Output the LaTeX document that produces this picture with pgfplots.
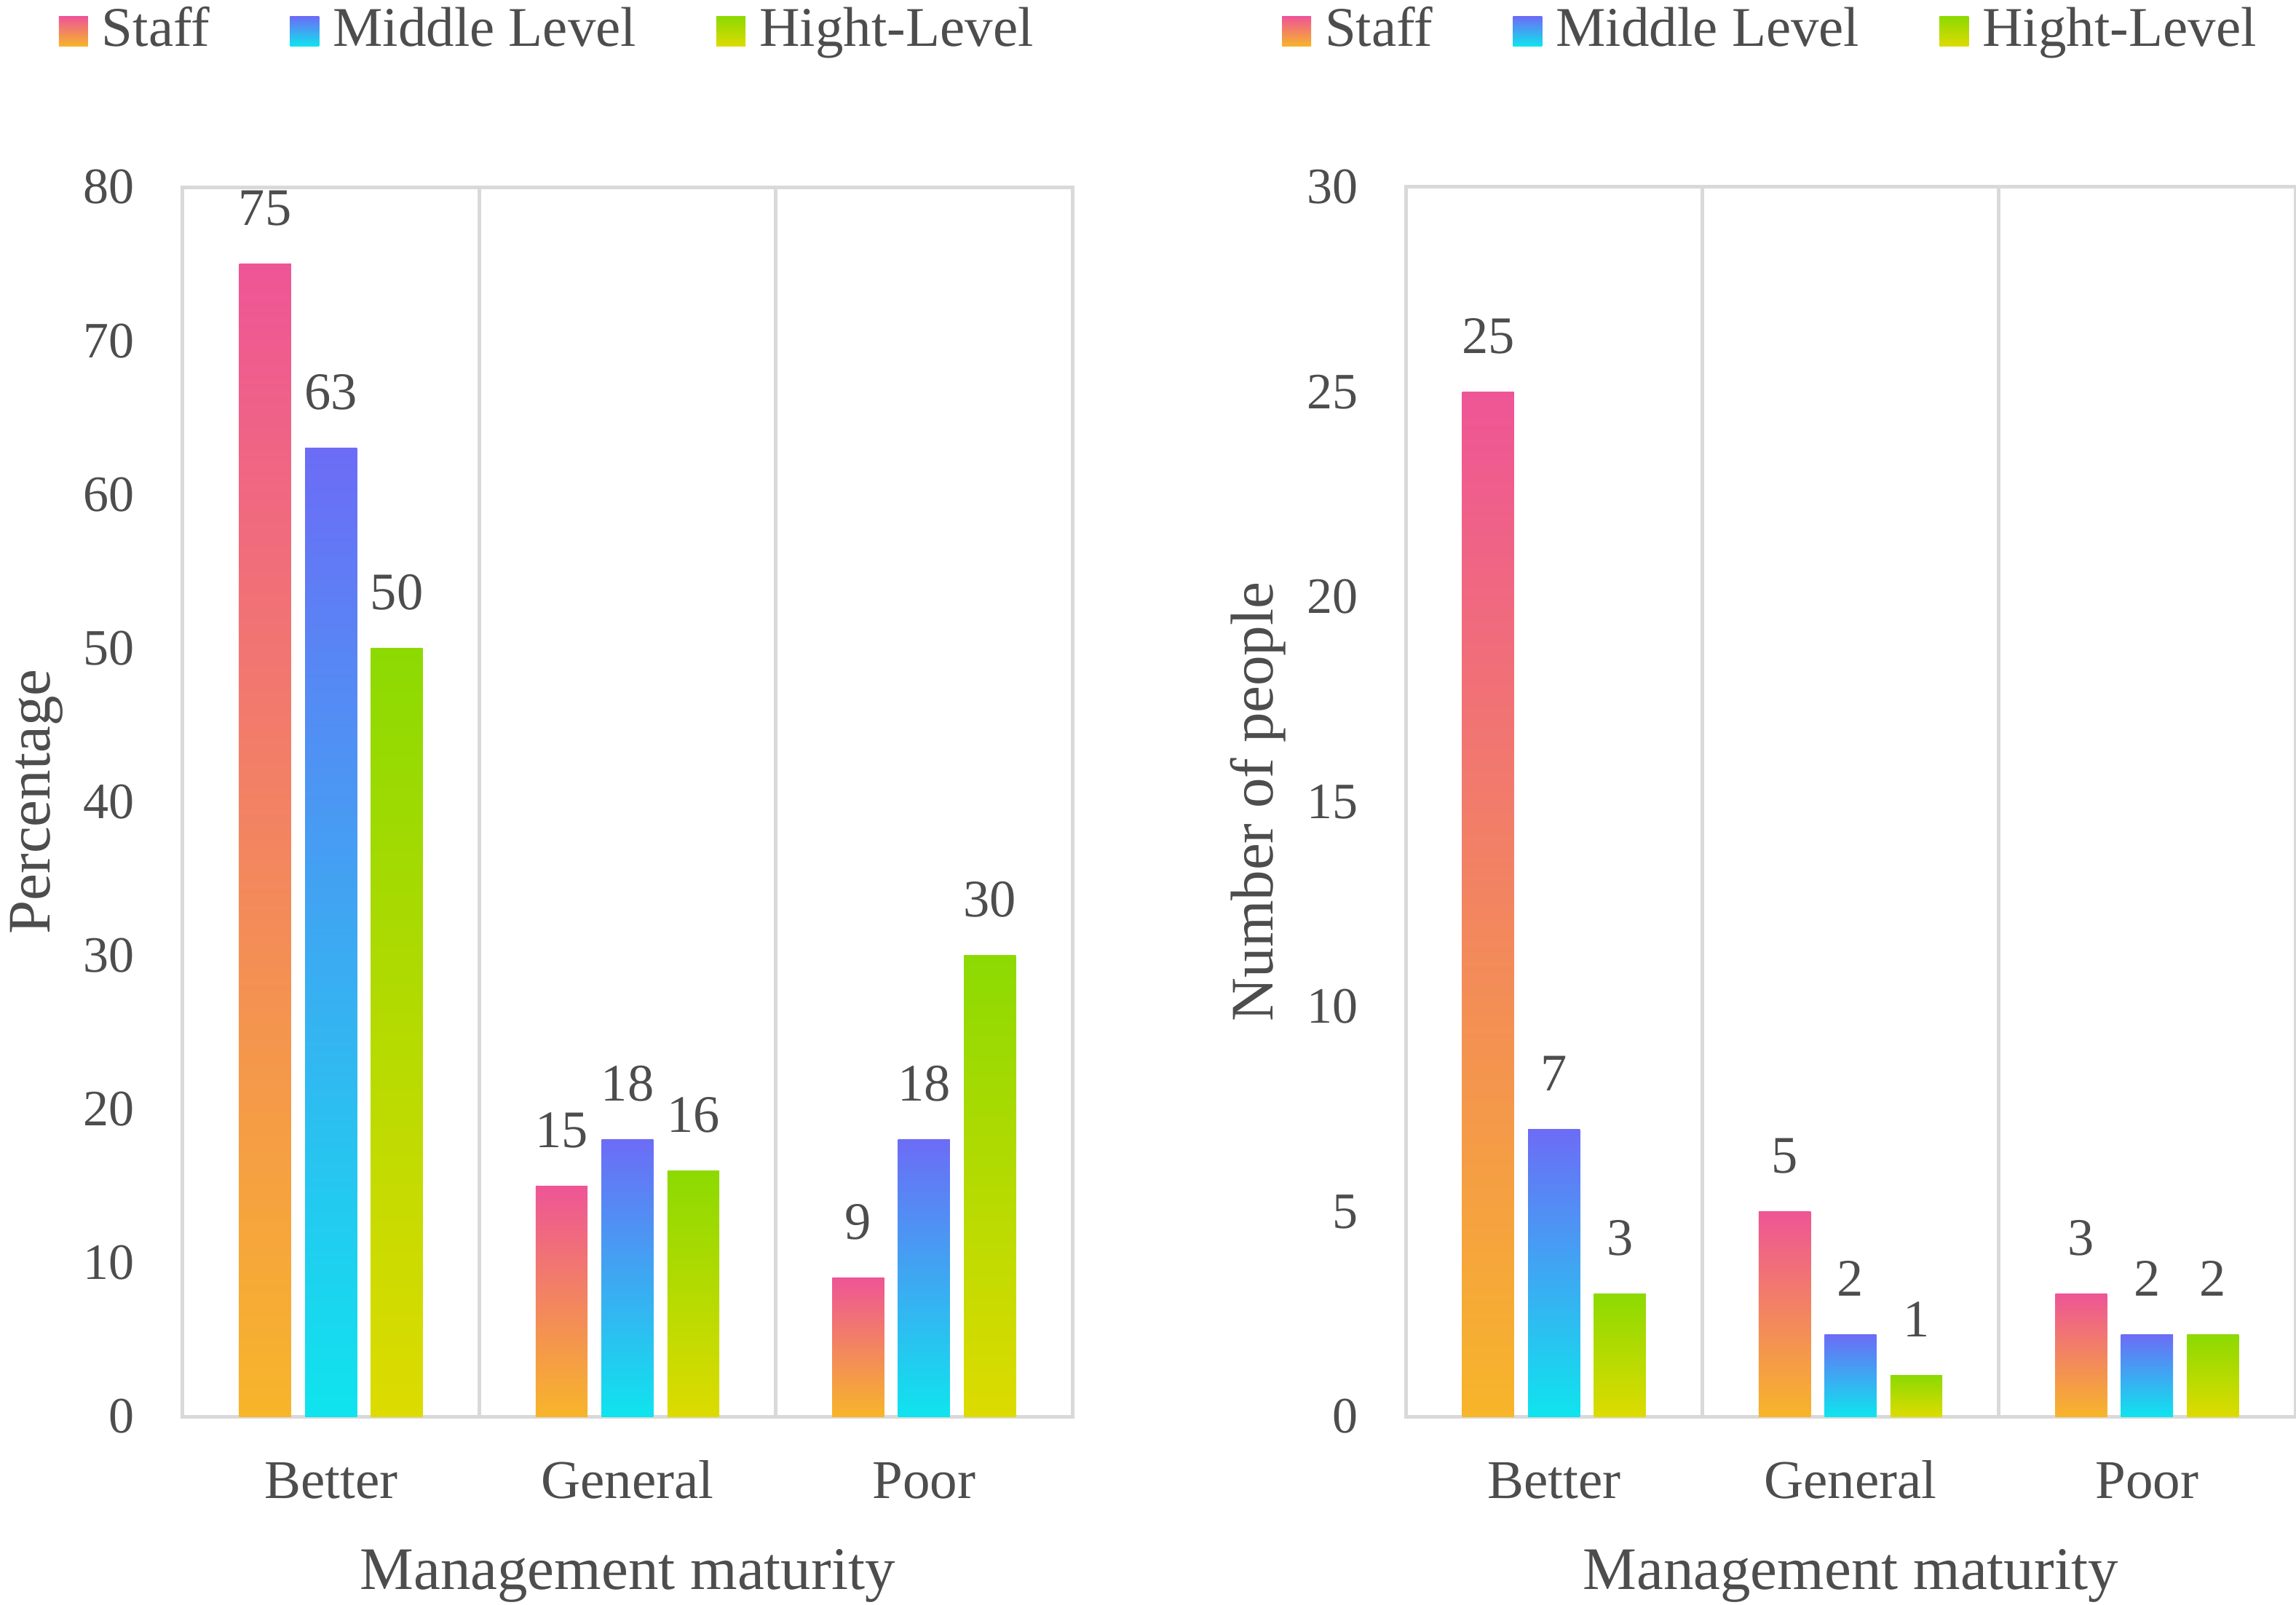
\documentclass[border=0pt]{standalone}
\usepackage{pgfplots}
\pgfplotsset{compat=1.18}
\usepackage{fontspec}
\setmainfont{Liberation Serif}
\definecolor{txt}{HTML}{4D4D4D}
\definecolor{grd}{HTML}{D9D9D9}
\definecolor{stT}{HTML}{EE5596}
\definecolor{stB}{HTML}{F7B52A}
\definecolor{miT}{HTML}{6C6CF6}
\definecolor{miB}{HTML}{0FE4EE}
\definecolor{hiT}{HTML}{8CDA02}
\definecolor{hiB}{HTML}{DDDB00}
\pgfplotsset{
  mystyle/.style={
    scale only axis, width=244.4pt, height=337.8pt,
    anchor=south west,
    ybar, bar width=0.175,
    xmin=-0.5, xmax=2.5, ymin=0,
    xtick={0,1,2}, xticklabels={Better,General,Poor},
    minor xtick={0.5,1.5}, xminorgrids,
    minor grid style={grd, line width=1pt},
    major tick length=0pt, minor tick length=0pt,
    axis line style={grd, line width=1pt},
    /pgf/number format/assume math mode=true,
    yticklabel style={font=\fontsize{14}{14}\selectfont, text=txt, anchor=east, inner sep=0pt, xshift=-13pt},
    xticklabel style={font=\fontsize{15}{15}\selectfont, text=txt, anchor=base, inner sep=0pt, yshift=-22.5pt},
    every axis x label/.style={at={([yshift=-47.4pt]axis description cs:0.5,0)}, anchor=base, font=\fontsize{16.6}{16.6}\selectfont, text=txt},
    every axis y label/.style={at={([xshift=-36.5pt]axis description cs:0,0.5)}, rotate=90, anchor=base, font=\fontsize{16.6}{16.6}\selectfont, text=txt},
    nodes near coords,
    every node near coord/.append style={font=\fontsize{14.5}{14.5}\selectfont, text=txt, anchor=base, inner sep=0pt, yshift=10.6pt},
    legend columns=3,
    legend cell align=left,
    legend style={at={([xshift=-34pt,yshift=43.3pt]axis description cs:0,1)}, anchor=west,
      draw=none, fill=none, inner sep=0pt, outer sep=0pt,
      font=\fontsize{15.4}{15.4}\selectfont, text=txt,
      nodes={inner sep=0pt},
      column sep=3.8pt,
      /tikz/every even column/.append style={column sep=22pt}},
  },
  staff/.style={draw=none, top color=stT, bottom color=stB, bar shift=-0.222,
    legend image code/.code={\shade[top color=stT,bottom color=stB] (0pt,-4.6pt) rectangle (8pt,3.6pt);}},
  mid/.style={draw=none, top color=miT, bottom color=miB, bar shift=0,
    legend image code/.code={\shade[top color=miT,bottom color=miB] (0pt,-4.6pt) rectangle (8pt,3.6pt);}},
  high/.style={draw=none, top color=hiT, bottom color=hiB, bar shift=0.222,
    legend image code/.code={\shade[top color=hiT,bottom color=hiB] (0pt,-4.6pt) rectangle (8pt,3.6pt);}},
}
\begin{document}
\begin{tikzpicture}
\begin{axis}[mystyle, at={(50.2pt,51.8pt)}, ymax=80, ytick={0,10,...,80},
  xlabel={Management maturity}, ylabel={Percentage}]
% Staff
\addplot[staff] coordinates {(0,75)};
\addplot[staff, forget plot] coordinates {(1,15)};
\addplot[staff, forget plot] coordinates {(2,9)};
% Middle Level
\addplot[mid] coordinates {(0,63)};
\addplot[mid, forget plot] coordinates {(1,18)};
\addplot[mid, forget plot] coordinates {(2,18)};
% Hight-Level
\addplot[high] coordinates {(0,50)};
\addplot[high, forget plot] coordinates {(1,16)};
\addplot[high, forget plot] coordinates {(2,30)};
\legend{Staff,Middle Level,Hight-Level}
\end{axis}
\begin{axis}[mystyle, at={(386.2pt,51.8pt)}, ymax=30, ytick={0,5,...,30},
  xlabel={Management maturity}, ylabel={Number of people}]
% Staff
\addplot[staff] coordinates {(0,25)};
\addplot[staff, forget plot] coordinates {(1,5)};
\addplot[staff, forget plot] coordinates {(2,3)};
% Middle Level
\addplot[mid] coordinates {(0,7)};
\addplot[mid, forget plot] coordinates {(1,2)};
\addplot[mid, forget plot] coordinates {(2,2)};
% Hight-Level
\addplot[high] coordinates {(0,3)};
\addplot[high, forget plot] coordinates {(1,1)};
\addplot[high, forget plot] coordinates {(2,2)};
\legend{Staff,Middle Level,Hight-Level}
\end{axis}
\pgfresetboundingbox
\path[use as bounding box] (0,0) rectangle (630.8pt,441pt);
\end{tikzpicture}
\end{document}
